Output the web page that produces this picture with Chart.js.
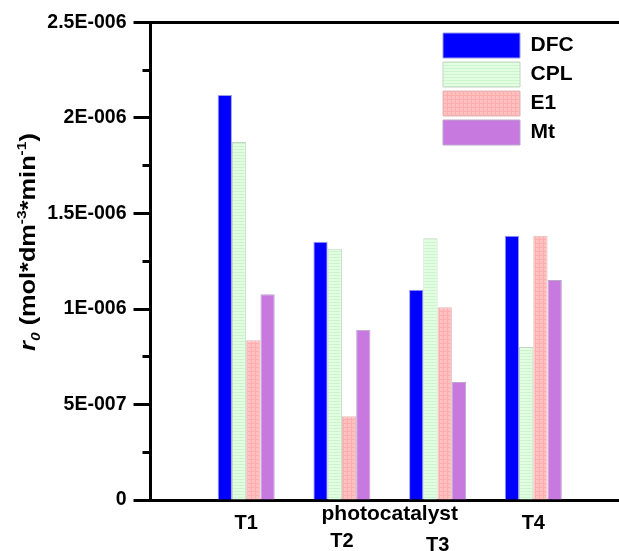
<!DOCTYPE html>
<html>
<head>
<meta charset="utf-8">
<script src="https://cdn.jsdelivr.net/npm/chart.js@4.4.1/dist/chart.umd.min.js"></script>
<style>
html,body{margin:0;padding:0;overflow:hidden;background:#fff;width:619px;height:551px}
canvas{display:block}
</style>
</head>
<body>
<canvas id="c" width="640" height="551"></canvas>
<script>
// ---- data ----
const categories = ['T1', 'T2', 'T3', 'T4'];
const seriesNames = ['DFC', 'CPL', 'E1', 'Mt'];
const dfc = [2.120e-6, 1.352e-6, 1.101e-6, 1.384e-6];
const cpl = [1.874e-6, 1.316e-6, 1.370e-6, 0.801e-6];
const e1  = [0.836e-6, 0.438e-6, 1.009e-6, 1.384e-6];
const mt  = [1.077e-6, 0.892e-6, 0.618e-6, 1.152e-6];
const yTickValues = [0, 5e-7, 1e-6, 1.5e-6, 2e-6, 2.5e-6];
const yTickLabels = ['0', '5E-007', '1E-006', '1.5E-006', '2E-006', '2.5E-006'];
const xTitle = 'photocatalyst';
const yTitleText = ['r', '0', ' (mol*dm', '-3', '*min', '-1', ')'];

// ---- styles ----
const FAM = '"Liberation Sans", Arial, Helvetica, sans-serif';
const tickDrop = { T1: 0, T2: 18, T3: 22, T4: 0 };
const canvas = document.getElementById('c');
const ctx = canvas.getContext('2d');

function makePattern(bg, line, horiz, vert, step) {
  const p = document.createElement('canvas');
  p.width = step; p.height = step;
  const g = p.getContext('2d');
  g.fillStyle = bg; g.fillRect(0, 0, step, step);
  g.fillStyle = line;
  if (horiz) g.fillRect(0, step - 1, step, 1);
  if (vert) g.fillRect(step - 1, 0, 1, step);
  return ctx.createPattern(p, 'repeat');
}
const cplFill = makePattern('#e2ffe2', '#cdf5cd', true, false, 3);
const e1Fill = makePattern('#ffc0c0', '#ffacac', true, true, 4);

const xLabels = ['', ...categories, ''];
const pad = v => [null, ...v, null];

const legendPlacer = {
  id: 'legendPlacer',
  afterLayout(chart) {
    const lg = chart.legend;
    if (!lg) return;
    const w = lg.width, h = lg.height;
    lg.left = 439; lg.top = 29;
    lg.right = lg.left + w; lg.bottom = lg.top + h;
  }
};

const yTitlePlugin = {
  id: 'yTitleRich',
  afterDraw(chart) {
    const c = chart.ctx;
    const base = 22;
    const styles = [
      { it: true, k: 1, dy: 0 },
      { it: true, k: 0.62, dy: 0.22 },
      { it: false, k: 1, dy: 0 },
      { it: false, k: 0.62, dy: -0.42 },
      { it: false, k: 1, dy: 0 },
      { it: false, k: 0.62, dy: -0.42 },
      { it: false, k: 1, dy: 0 }
    ];
    c.save();
    let total = 0;
    const widths = yTitleText.map((t, i) => {
      const s = styles[i];
      c.font = (s.it ? 'italic ' : '') + 'bold ' + (base * s.k) + 'px ' + FAM;
      const w = c.measureText(t).width;
      total += w;
      return w;
    });
    const sx = 1.15;
    c.translate(35, 242);
    c.rotate(-Math.PI / 2);
    c.scale(sx, 1);
    c.fillStyle = '#000';
    c.textBaseline = 'alphabetic';
    c.textAlign = 'left';
    let u = -total / 2;
    yTitleText.forEach((t, i) => {
      const s = styles[i];
      c.font = (s.it ? 'italic ' : '') + 'bold ' + (base * s.k) + 'px ' + FAM;
      c.fillText(t, u, s.dy * base);
      u += widths[i];
    });
    c.restore();
  }
};

new Chart(ctx, {
  type: 'bar',
  data: {
    labels: xLabels,
    datasets: [
      { label: seriesNames[0], data: pad(dfc), backgroundColor: '#0000ff', borderColor: '#9a9af0', borderWidth: 1 },
      { label: seriesNames[1], data: pad(cpl), backgroundColor: cplFill, borderColor: '#c4d4c4', borderWidth: 1 },
      { label: seriesNames[2], data: pad(e1), backgroundColor: e1Fill, borderColor: '#e2b8b8', borderWidth: 1 },
      { label: seriesNames[3], data: pad(mt), backgroundColor: '#c879e0', borderColor: '#bca6cc', borderWidth: 1 }
    ]
  },
  options: {
    responsive: false,
    animation: false,
    devicePixelRatio: 1,
    layout: { padding: { top: 22.5, right: 11, left: 0, bottom: 0 } },
    datasets: { bar: { categoryPercentage: 0.596, barPercentage: 1 } },
    plugins: {
      legend: {
        position: 'chartArea',
        align: 'start',
        labels: {
          boxWidth: 77, boxHeight: 25, padding: 4, color: '#000',
          font: { family: FAM, size: 21, weight: 'bold' }
        }
      },
      tooltip: { enabled: false }
    },
    scales: {
      x: {
        type: 'category',
        offset: false,
        grid: { display: false, drawTicks: false },
        border: { display: true, width: 3, color: '#000' },
        ticks: {
          autoSkip: false, maxRotation: 0, minRotation: 0, padding: 0, color: '#000',
          font: (c) => ({ family: FAM, size: 20, weight: 'bold',
            lineHeight: (46 + 2 * (tickDrop[xLabels[c.index]] || 0)) + 'px' })
        },
        title: {
          display: true, text: xTitle, color: '#000',
          font: { family: FAM, size: 21, weight: 'bold' },
          padding: { top: 0, bottom: 24.4 }
        },
        afterFit: (s) => { s.height = 51; }
      },
      x2: {
        type: 'category',
        position: 'top',
        labels: xLabels,
        offset: false,
        grid: { display: false, drawTicks: false },
        border: { display: true, width: 3, color: '#000' },
        ticks: { display: false },
        afterFit: (s) => { s.height = 0; }
      },
      y: {
        min: 0, max: 2.5e-6,
        position: 'left',
        weight: 0,
        grid: { display: true, drawOnChartArea: false, drawTicks: true, tickLength: 17, tickWidth: 3, tickColor: '#000' },
        border: { display: true, width: 3, color: '#000' },
        ticks: {
          stepSize: 5e-7, padding: 7, color: '#000', autoSkip: false,
          font: { family: FAM, size: 19.5, weight: 'bold' },
          callback: (v) => {
            const i = yTickValues.findIndex(t => Math.abs(t - v) < 1e-12);
            return i >= 0 ? yTickLabels[i] : '';
          }
        },
        afterFit: (s) => { s.width = 150.5; }
      },
      yMinor: {
        min: 0, max: 2.5e-6,
        position: 'left',
        weight: -1,
        grid: { display: true, drawOnChartArea: false, drawTicks: true, tickLength: 8, tickWidth: 3, tickColor: '#000' },
        border: { display: false },
        ticks: { stepSize: 2.5e-7, display: false },
        afterFit: (s) => { s.width = 0; }
      }
    }
  },
  plugins: [legendPlacer, yTitlePlugin]
});
</script>
</body>
</html>
